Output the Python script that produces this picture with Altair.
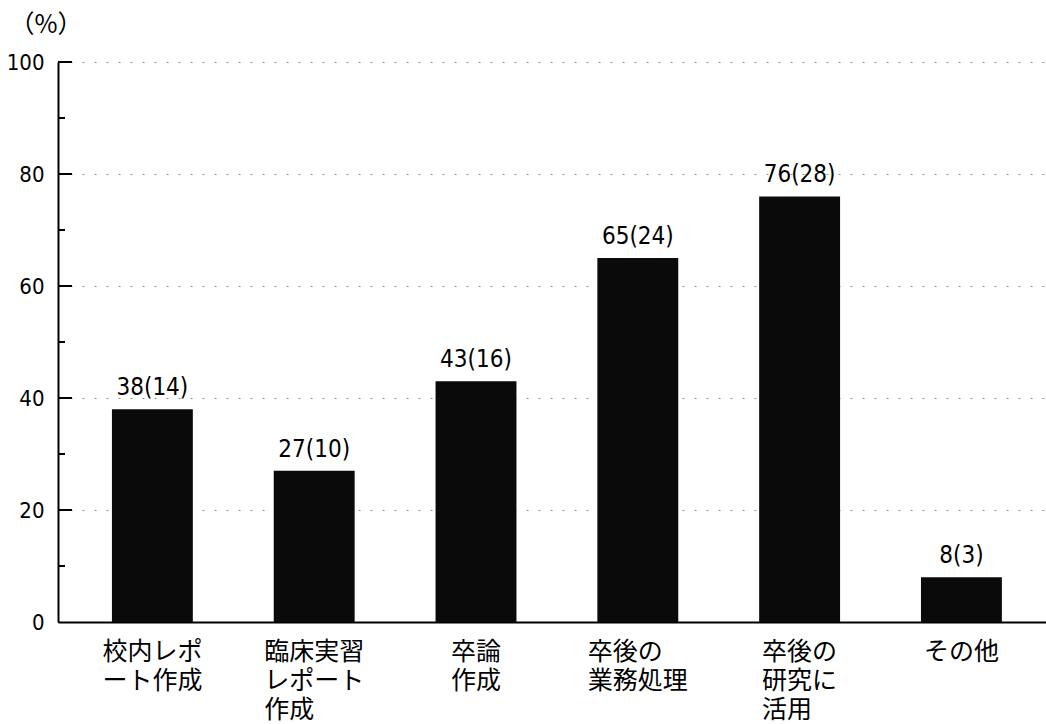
import altair as alt
import pandas as pd

# ---- data ----
categories = [
    "校内レポート作成",
    "臨床実習レポート作成",
    "卒論作成",
    "卒後の業務処理",
    "卒後の研究に活用",
    "その他",
]
category_lines = [
    ["校内レポ", "ート作成"],
    ["臨床実習", "レポート", "作成"],
    ["卒論", "作成"],
    ["卒後の", "業務処理"],
    ["卒後の", "研究に", "活用"],
    ["その他"],
]
percents = [38, 27, 43, 65, 76, 8]
counts = [14, 10, 16, 24, 28, 3]
major_ticks = [0, 20, 40, 60, 80, 100]
minor_ticks = [10, 30, 50, 70, 90]
unit_label = ["（%）"]

# ---- layout / style ----
W, H = 988, 560
PAD_IN, PAD_OUT, ALIGN = 0.5, 0.303, 0.55
X_FS = 25  # category label font size (CJK glyphs are 1em wide)
step = W / (len(categories) - PAD_IN + 2 * PAD_OUT)
bandwidth = step * (1 - PAD_IN)

df = pd.DataFrame({
    "cat": categories,
    "pct": percents,
    "label": [f"{p}({c})" for p, c in zip(percents, counts)],
})
cat_df = pd.DataFrame({
    "cat": categories,
    "lines": category_lines,
    "off": [bandwidth / 2 - max(len(s) for s in ls) * X_FS / 2 for ls in category_lines],
    "zero": [0] * len(categories),
})
major_df = pd.DataFrame({"v": major_ticks[1:]})
minor_df = pd.DataFrame({"v": minor_ticks})
unit_df = pd.DataFrame({"t": unit_label})

JP = "Noto Sans CJK JP"
NUM = "Liberation Sans Narrow, DejaVu Sans Condensed, Noto Sans CJK JP"

x_scale = alt.Scale(paddingInner=PAD_IN, paddingOuter=PAD_OUT, align=ALIGN)
y_scale = alt.Scale(domain=[0, 100], nice=False)

x_enc = alt.X(
    "cat:N", sort=categories, title=None, scale=x_scale,
    axis=alt.Axis(
        labels=False, ticks=False, tickSize=0,
        domainColor="black", domainWidth=2, grid=False,
    ),
)
y_enc = alt.Y(
    "pct:Q", title=None, scale=y_scale,
    axis=alt.Axis(
        values=major_ticks, ticks=False, tickSize=0, labelPadding=14,
        labelFont=NUM, labelFontSize=22, labelColor="black",
        domainColor="black", domainWidth=2,
        grid=True, gridColor="#8f8f8f", gridDash=[2, 10], gridWidth=1,
    ),
)

bars = alt.Chart(df).mark_bar(color="#0a0a0a").encode(x=x_enc, y=y_enc)

labels = alt.Chart(df).mark_text(
    baseline="bottom", dy=-9, font=NUM, fontSize=24, color="black"
).encode(x=alt.X("cat:N", sort=categories), y="pct:Q", text="label:N")

cat_labels = alt.Chart(cat_df).mark_text(
    align="left", baseline="top", dy=18, font=JP, fontSize=X_FS,
    lineHeight=29, color="black", clip=False,
).encode(
    x=alt.X("cat:N", sort=categories),
    xOffset=alt.XOffset("off:Q", scale=None),
    y=alt.Y("zero:Q"),
    text="lines",
)

major = alt.Chart(major_df).mark_rule(color="black", strokeWidth=2).encode(
    y=alt.Y("v:Q"), x=alt.value(0), x2=alt.value(14))
minor = alt.Chart(minor_df).mark_rule(color="black", strokeWidth=2).encode(
    y=alt.Y("v:Q"), x=alt.value(0), x2=alt.value(7))

unit = alt.Chart(unit_df).mark_text(
    font=JP, fontSize=25, color="black", align="center", baseline="middle",
    clip=False,
).encode(text="t:N", x=alt.value(-12), y=alt.value(-37))

chart = alt.layer(bars, labels, cat_labels, major, minor, unit).properties(
    width=W, height=H,
    autosize=alt.AutoSizeParams(type="none"),
    padding={"left": 58, "top": 62, "right": 0, "bottom": 102},
).configure_view(stroke=None)

chart.save("out.html", embed_options={"renderer": "svg", "actions": False})
